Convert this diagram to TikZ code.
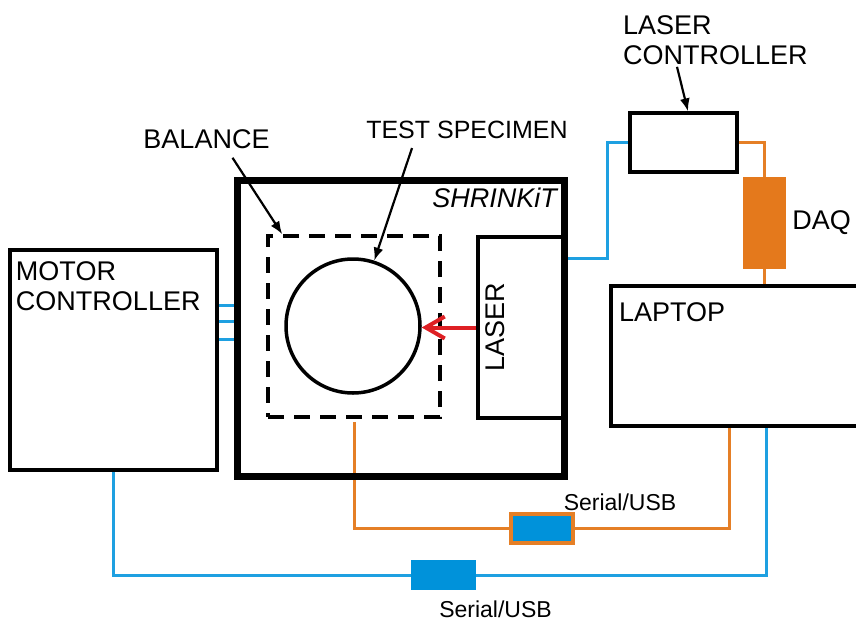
\documentclass[tikz,border=0pt]{standalone}
\usepackage{fontspec}
\setmainfont{Liberation Sans}
\usepackage{xcolor}
\usepackage{tikz}
\usetikzlibrary{arrows.meta, positioning, backgrounds}

\definecolor{cableblue}{RGB}{30,160,225}
\definecolor{cableorange}{RGB}{229,127,38}
\definecolor{usbblue}{RGB}{0,146,218}
\definecolor{daqorange}{RGB}{228,121,28}
\definecolor{beamred}{RGB}{222,32,36}
\newcommand{\lblfont}{\fontsize{27}{30}\selectfont}
\newcommand{\usbfont}{\fontsize{23}{28}\selectfont}

\begin{document}
\begin{tikzpicture}[
  x=1pt, y=-1pt,
  font=\lblfont,
  block/.style={rectangle, draw, line width=3.2pt, inner sep=0pt},
  lbl/.style={inner sep=0pt, align=left},
  ptr/.style={draw, line width=2.2pt, -{Latex[length=13pt,width=10pt]}},
  cableb/.style={draw=cableblue, line width=3pt},
  cableo/.style={draw=cableorange, line width=3pt},
  usbbox/.style={rectangle, fill=usbblue, inner sep=0pt}
]
  \useasboundingbox (0,0) rectangle (856,621);

  % boxes
  \node [block, minimum width=207pt, minimum height=220pt] (motor) at (113.5,360) {};
  \node [block, line width=7pt, minimum width=327pt, minimum height=296pt] (shrink) at (400.5,328) {};
  \node [block, line width=3.5pt, dash pattern=on 16pt off 10pt, minimum width=172pt, minimum height=181pt] (balance) at (354,326.5) {};
  \node [circle, draw, line width=3.5pt, minimum size=134pt, inner sep=0pt] (specimen) at (353,326) {};
  \node [block, minimum width=86pt, minimum height=181pt] (laser) at (521,327.5) {};
  \node [block, minimum width=107pt, minimum height=59pt] (lasctrl) at (683.5,142.5) {};
  \node [rectangle, fill=daqorange, minimum width=43pt, minimum height=92pt, inner sep=0pt] (daq) at (764.5,223) {};
  \node [block, minimum width=259pt, minimum height=140pt] (laptop) at (740.5,356) {};
  \node [usbbox, draw=cableorange, line width=3.5pt, minimum width=62pt, minimum height=29pt] (usbA) at (542,528.5) {};
  \node [usbbox, minimum width=65pt, minimum height=30pt] (usbB) at (443.5,575) {};

  % labels
  \node [lbl, below right=12.7pt and 7.4pt of motor.north west] (motortxt) {MOTOR\\CONTROLLER};
  \node [lbl, font=\lblfont\itshape, anchor=base east] (shrinktxt) at (557,207.5) {SHRINKiT};
  \node [lbl, rotate=90] (lasertxt) at (495,327) {LASER};
  \node [lbl, anchor=north west] (lasctrltxt) at (623,15.3) {LASER\\CONTROLLER};
  \node [lbl, right=6pt of daq] (daqtxt) {DAQ};
  \node [lbl, below right=17.7pt and 9.4pt of laptop.north west] (laptoptxt) {LAPTOP};
  \node [lbl] (baltxt) at (206.5,139) {BALANCE};
  \node [lbl, font=\fontsize{25}{30}\selectfont] (spectxt) at (467,130) {TEST SPECIMEN};
  \node [lbl, font=\usbfont] (usbAtxt) at (620,502) {Serial/USB};
  \node [lbl, font=\usbfont] (usbBtxt) at (495.5,609) {Serial/USB};

  % pointers
  \draw [ptr] ([xshift=26pt, yshift=-9pt]baltxt.south) -- ([xshift=16pt]balance.north west);
  \draw [ptr] ([xshift=-55pt, yshift=-9pt]spectxt.south) -- (specimen.72);
  \draw [ptr] ([xshift=54pt, yshift=-2pt]lasctrltxt.south west) -- ([xshift=4.5pt]lasctrl.north);
  \draw [draw=beamred, line width=4pt, -{Straight Barb[length=19pt,width=22pt]}] (laser.west) -- (laser.west -| specimen.east);

  % cables
  \begin{scope}[on background layer]
    \foreach \y in {305,321,339}
      \draw [cableb] (motor.east |- 0,\y) -- (shrink.west |- 0,\y);
    \draw [cableb] ([yshift=70pt]shrink.east) -- ++(40,0) |- (lasctrl.west);
    \draw [cableo] (lasctrl.east) -| (daq.north);
    \draw [cableo] (daq.south) -- (daq.south |- laptop.north);
    \draw [cableo] ([yshift=-3pt]balance.south) |- (usbA.west);
    \draw [cableo] (usbA.east) -| ([xshift=120pt]laptop.south west);
    \draw [cableb] (motor.south) |- (usbB.west);
    \draw [cableb] (usbB.east) -| ([xshift=157pt]laptop.south west);
  \end{scope}
\end{tikzpicture}
\end{document}
